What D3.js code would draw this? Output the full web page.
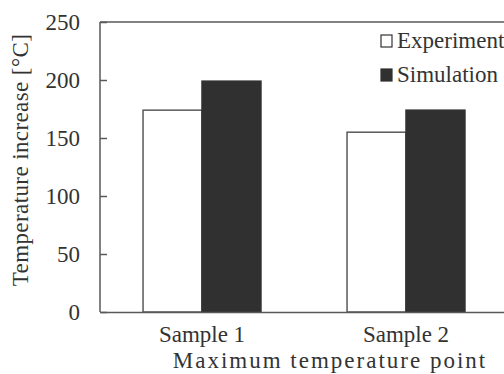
<!DOCTYPE html>
<html>
<head>
<meta charset="utf-8">
<script src="https://cdn.jsdelivr.net/npm/d3@7"></script>
<style>
  body { margin: 0; background: #fff; }
  text { font-family: "Liberation Serif", "Times New Roman", serif; fill: #333; }
</style>
</head>
<body>
<svg id="chart"></svg>
<script>
// chart data
const categories = ["Sample 1", "Sample 2"];
const series = ["Experiment", "Simulation"];
const experiment = [174, 155];
const simulation = [199, 174];
const yTicks = [0, 50, 100, 150, 200, 250];

const width = 504, height = 374;
const margin = { top: 22, right: -4, bottom: 62, left: 100 };
const lineColor = "#595959";
const barDark = "#303030";

let data = categories.map((c, i) => ({ cat: c, values: [
  { key: "Experiment", value: experiment[i] },
  { key: "Simulation", value: simulation[i] }
]}));

let svg = d3.select("#chart")
  .attr("width", width)
  .attr("height", height);

let x0 = d3.scaleBand()
  .domain(categories)
  .range([margin.left, width - margin.right])
  .padding(0);

let x1 = d3.scaleBand()
  .domain(series)
  .range([0, x0.bandwidth()])
  .paddingInner(0)
  .paddingOuter(0.73);

let y = d3.scaleLinear()
  .domain([0, 250])
  .range([height - margin.bottom, margin.top]);

// bars
let groups = svg.selectAll("g.cat")
  .data(data)
  .enter().append("g")
  .attr("class", "cat")
  .attr("transform", d => "translate(" + x0(d.cat) + ",0)");

groups.selectAll("rect")
  .data(d => d.values)
  .enter().append("rect")
  .attr("x", d => x1(d.key))
  .attr("width", x1.bandwidth())
  .attr("y", d => y(d.value))
  .attr("height", d => y(0) - y(d.value))
  .attr("fill", d => d.key == "Experiment" ? "#fff" : barDark)
  .attr("stroke", d => d.key == "Experiment" ? lineColor : barDark)
  .attr("stroke-width", 1.5);

// frame (top + right)
svg.append("path")
  .attr("d", "M" + margin.left + "," + y(250) + "H" + (width - margin.right) + "V" + y(0))
  .attr("fill", "none")
  .attr("stroke", lineColor)
  .attr("stroke-width", 1.5);

// y axis with inward ticks
let yAxis = svg.append("g")
  .attr("transform", "translate(" + margin.left + ",0)")
  .call(d3.axisRight(y).tickValues(yTicks).tickSize(7).tickFormat(d3.format("d")));
yAxis.select(".domain").remove();
yAxis.selectAll(".tick line").attr("stroke", lineColor).attr("stroke-width", 1.5);
yAxis.selectAll(".tick text")
  .attr("x", -20)
  .attr("text-anchor", "end")
  .attr("font-size", 23)
  .attr("font-family", null)
  .attr("fill", "#333");
svg.append("line")
  .attr("x1", margin.left).attr("x2", margin.left)
  .attr("y1", y(0)).attr("y2", y(250))
  .attr("stroke", lineColor).attr("stroke-width", 1.5);

// x axis, no ticks
let xAxis = svg.append("g")
  .attr("transform", "translate(0," + y(0) + ")")
  .call(d3.axisBottom(x0).tickSize(0).tickPadding(14));
xAxis.select(".domain").attr("stroke", lineColor).attr("stroke-width", 1.5);
xAxis.selectAll(".tick text")
  .attr("font-size", 23)
  .attr("font-family", null)
  .attr("fill", "#333");

// axis titles
svg.append("text")
  .attr("x", 330)
  .attr("y", 368)
  .attr("text-anchor", "middle")
  .attr("font-size", 23)
  .attr("letter-spacing", 2)
  .text("Maximum temperature point");

svg.append("text")
  .attr("transform", "translate(28,160) rotate(-90)")
  .attr("text-anchor", "middle")
  .attr("font-size", 23)
  .attr("letter-spacing", 0.4)
  .text("Temperature increase [°C]");

// legend
let legend = svg.selectAll("g.legend")
  .data(series)
  .enter().append("g")
  .attr("class", "legend")
  .attr("transform", (d, i) => "translate(381," + (35 + i * 34) + ")");

legend.append("rect")
  .attr("width", 11)
  .attr("height", 12)
  .attr("fill", d => d == "Experiment" ? "#fff" : barDark)
  .attr("stroke", d => d == "Experiment" ? "#333" : barDark)
  .attr("stroke-width", 1.2);

legend.append("text")
  .attr("x", 16)
  .attr("y", 13)
  .attr("font-size", 23)
  .text(d => d);
</script>
</body>
</html>
